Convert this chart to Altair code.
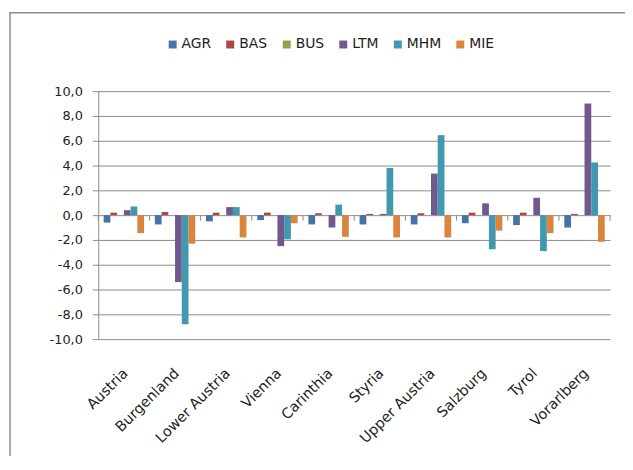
import altair as alt
import pandas as pd

regions = ["Austria", "Burgenland", "Lower Austria", "Vienna", "Carinthia",
           "Styria", "Upper Austria", "Salzburg", "Tyrol", "Vorarlberg"]
series = ["AGR", "BAS", "BUS", "LTM", "MHM", "MIE"]
colors = ["#4572A7", "#AA4643", "#89A54E", "#71588F", "#4198AF", "#DB843D"]

AGR = [-0.6, -0.75, -0.5, -0.4, -0.75, -0.75, -0.75, -0.65, -0.8, -1.0]
BAS = [0.2, 0.25, 0.2, 0.2, 0.15, 0.1, 0.15, 0.2, 0.2, 0.1]
BUS = [0.0, 0.0, 0.0, 0.0, 0.0, 0.0, 0.0, 0.0, 0.0, 0.0]
LTM = [0.4, -5.4, 0.65, -2.5, -1.0, 0.1, 3.35, 0.95, 1.4, 9.0]
MHM = [0.7, -8.8, 0.65, -1.95, 0.85, 3.8, 6.45, -2.75, -2.9, 4.25]
MIE = [-1.45, -2.3, -1.8, -0.65, -1.75, -1.8, -1.8, -1.25, -1.45, -2.15]

vals = {"AGR": AGR, "BAS": BAS, "BUS": BUS, "LTM": LTM, "MHM": MHM, "MIE": MIE}
rows = []
for s in series:
    for r, v in zip(regions, vals[s]):
        rows.append({"region": r, "series": s, "value": v})
df = pd.DataFrame(rows)

FONT = "DejaVu Sans"
GREY = "#8c8c8c"

xscale = alt.Scale(paddingInner=0, paddingOuter=0)
yscale = alt.Scale(domain=[-10, 10], nice=False)

bars = alt.Chart(df).mark_bar().encode(
    x=alt.X("region:N", sort=regions, scale=xscale, title=None,
            axis=alt.Axis(domain=False, ticks=False, labelAngle=-45,
                          labelAlign="right", labelBaseline="middle",
                          labelPadding=32, labelOffset=2,
                          labelFont=FONT, labelFontSize=14.5,
                          labelColor="#222222", labelOverlap=False, grid=False)),
    xOffset=alt.XOffset("series:N", sort=series,
                        scale=alt.Scale(paddingOuter=0.8, paddingInner=0)),
    y=alt.Y("value:Q", scale=yscale, title=None,
            axis=alt.Axis(values=list(range(-10, 11, 2)), tickCount=30,
                          grid=True,
                          gridColor=GREY, gridWidth=1, domainColor=GREY,
                          domainWidth=1, tickColor=GREY, tickSize=6,
                          labelPadding=10, labelFont=FONT, labelFontSize=13,
                          labelColor="#222222", labelOverlap=False,
                          labelExpr="(datum.value < 0 ? '-' : '') + replace(format(abs(datum.value), '.1f'), '.', ',')")),
    color=alt.Color("series:N", sort=series,
                    scale=alt.Scale(domain=series, range=colors),
                    legend=alt.Legend(title=None, orient="none", legendX=68,
                                      legendY=-54, direction="horizontal",
                                      symbolType="square", symbolSize=64,
                                      symbolStrokeWidth=0, labelFont=FONT,
                                      labelFontSize=14, labelColor="#222222",
                                      columnPadding=12, labelOffset=2)),
)

tick_df = pd.DataFrame({"region": regions})
ticks = alt.Chart(tick_df).mark_rule(color=GREY, strokeWidth=1).encode(
    x=alt.X("region:N", sort=regions, bandPosition=0),
    y=alt.datum(0),
    y2=alt.datum(-0.45),
)
end_tick = alt.Chart(pd.DataFrame({"region": [regions[-1]]})).mark_rule(
    color=GREY, strokeWidth=1).encode(
    x=alt.X("region:N", sort=regions, bandPosition=1),
    y=alt.datum(0),
    y2=alt.datum(-0.45),
)

border = alt.Chart(pd.DataFrame({"a": [0]})).mark_rect(
    fillOpacity=0, stroke=GREY, strokeWidth=1.5).encode(
    x=alt.value(-89), y=alt.value(-79), x2=alt.value(800), y2=alt.value(700))

chart = alt.layer(border, bars, ticks, end_tick).properties(
    width=516, height=250,
    autosize=alt.AutoSizeParams(type="none"),
    padding={"left": 91, "top": 82, "right": 15, "bottom": 116},
).configure_view(stroke=None)

chart.save("out.html", embed_options={"renderer": "svg", "actions": False})
